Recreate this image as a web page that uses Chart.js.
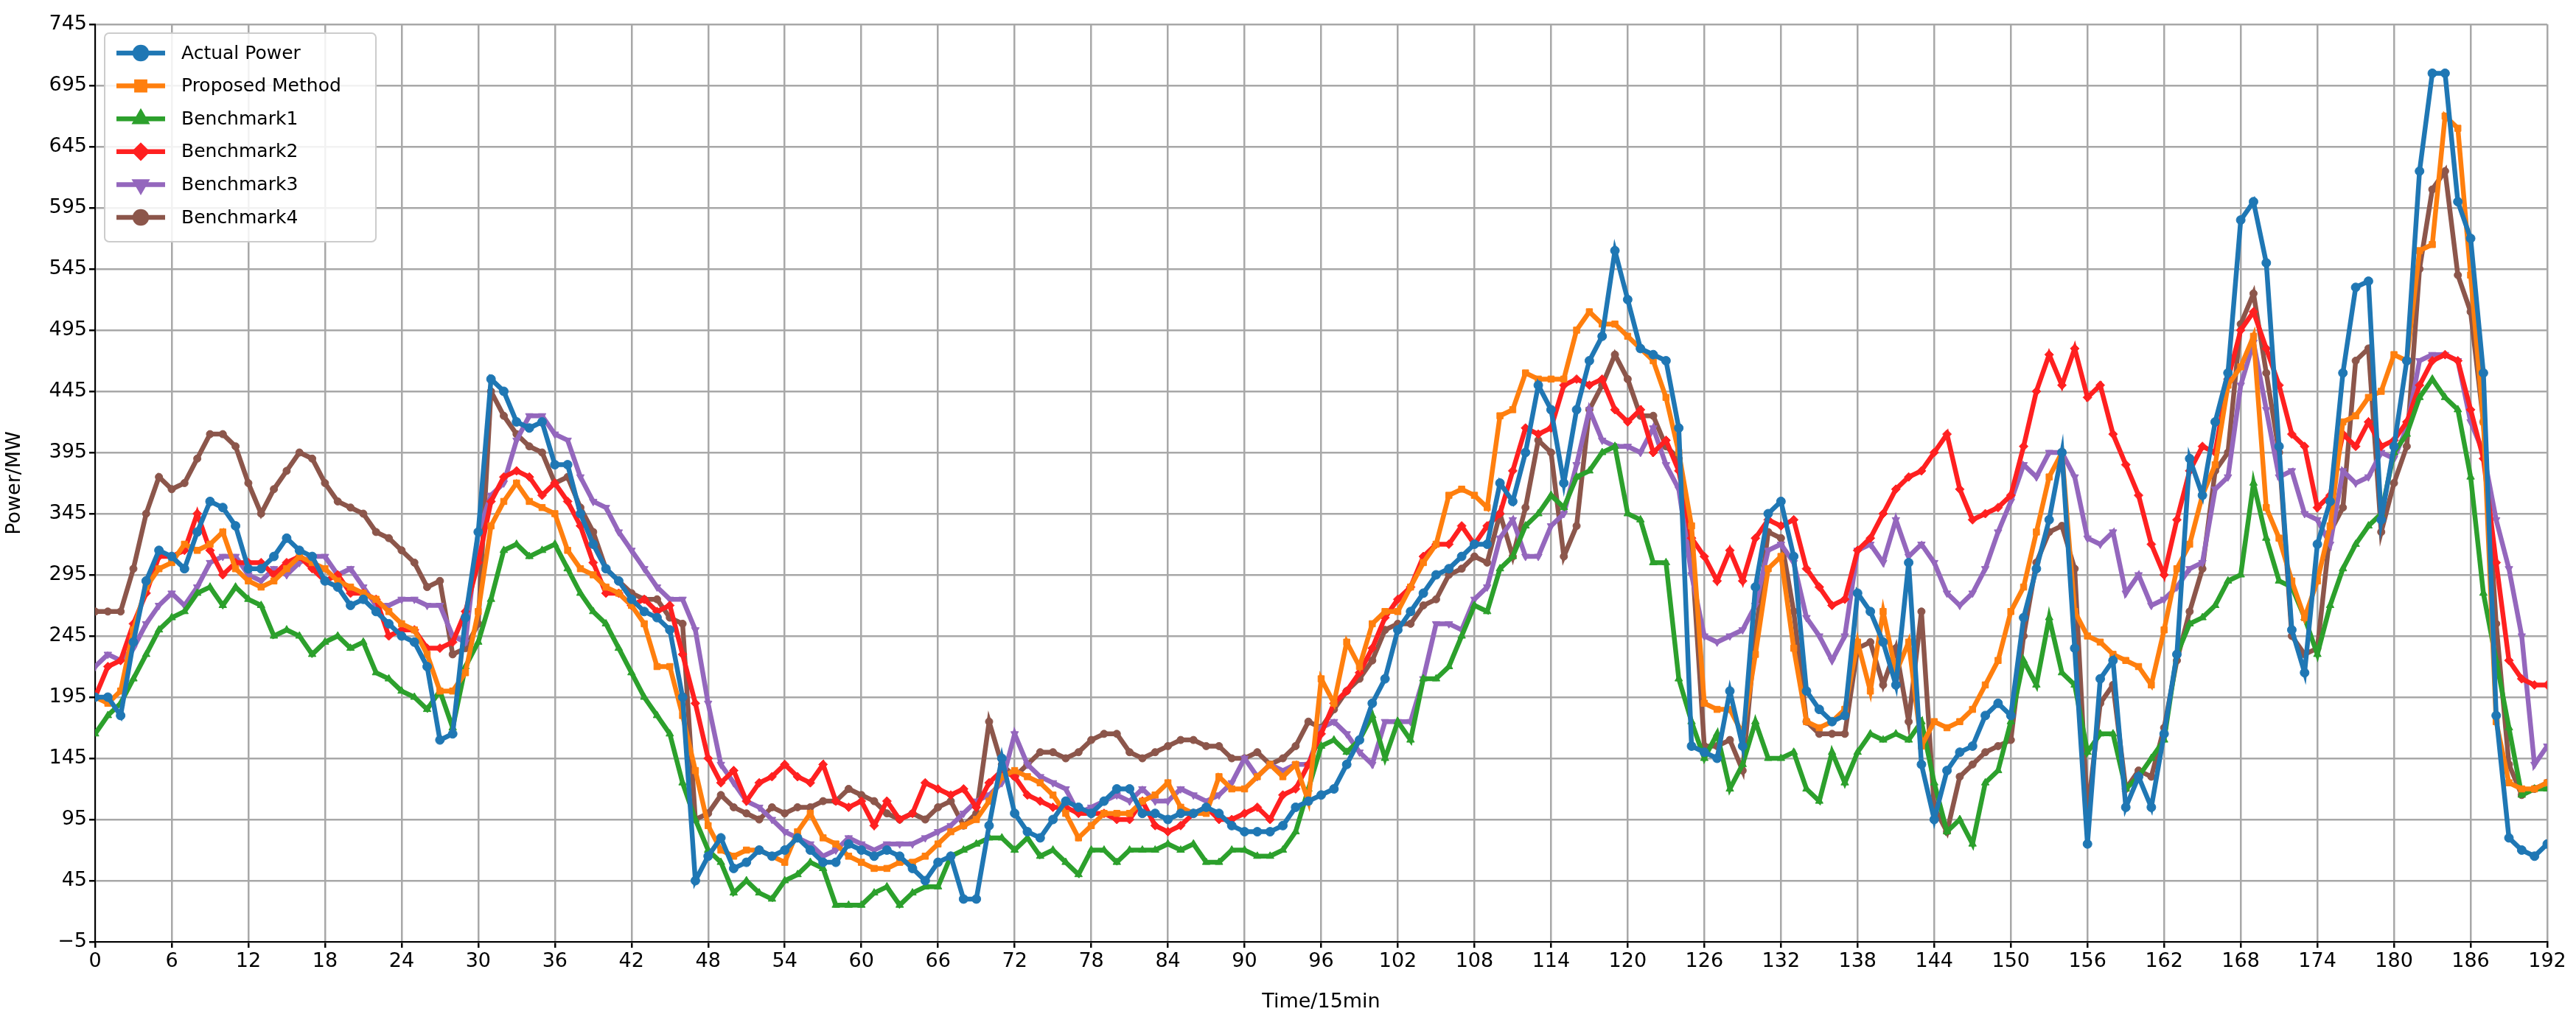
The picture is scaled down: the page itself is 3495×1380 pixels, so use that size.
<!DOCTYPE html>
<html>
<head>
<meta charset="utf-8">
<script src="https://cdn.jsdelivr.net/npm/chart.js@4/dist/chart.umd.min.js"></script>
<style>
html,body{margin:0;padding:0;background:#fff;}
#wrap{width:3495px;height:1380px;}
</style>
</head>
<body>
<div id="wrap"><canvas id="powerChart" width="3495" height="1380"></canvas></div>
<script>
// values, one per 15 min step (0..192)
const actualPower = [
195,195,180,240,290,315, 310,300,330,355,350,335, 300,300,310,325,315,310, 290,285,270,275,265,255,
245,240,220,160,165,260, 330,455,445,420,415,420, 385,385,345,320,300,290, 275,265,260,250,195,45,
65,80,55,60,70,65, 70,80,70,60,60,75, 70,65,70,65,55,45, 60,65,30,30,90,145,
100,85,80,95,110,105, 100,110,120,120,100,100, 95,100,100,105,100,90, 85,85,85,90,105,110,
115,120,140,160,190,210, 250,265,280,295,300,310, 320,320,370,355,395,450, 430,370,430,470,490,560,
520,480,475,470,415,155, 150,145,200,155,285,345, 355,310,200,185,175,180, 280,265,240,205,305,140,
95,135,150,155,180,190, 180,260,300,340,395,235, 75,210,225,105,130,105, 165,230,390,360,420,460,
585,600,550,400,250,215, 320,355,460,530,535,340, 400,470,625,705,705,600, 570,460,180,80,70,65,75
];
const proposedMethod = [
195,190,200,250,285,300, 305,320,315,320,330,300, 290,285,290,300,310,305, 300,290,285,280,275,265,
255,250,230,200,200,215, 265,335,355,370,355,350, 345,315,300,295,285,280, 270,255,220,220,180,135,
90,70,65,70,70,65, 60,85,100,80,75,65, 60,55,55,60,60,65, 75,85,90,95,110,130,
135,130,125,115,100,80, 90,100,100,100,110,115, 125,105,100,100,130,120, 120,130,140,130,140,110,
210,190,240,220,255,265, 265,285,305,320,360,365, 360,350,425,430,460,455, 455,455,495,510,500,500,
490,480,470,440,395,335, 190,185,185,165,230,300, 310,235,175,170,175,185, 240,200,265,215,240,155,
175,170,175,185,205,225, 265,285,330,375,395,265, 245,240,230,225,220,205, 250,300,320,360,385,450,
465,490,350,325,290,260, 290,335,420,425,440,445, 475,470,560,565,670,660, 540,420,175,125,120,120,125
];
const benchmark1 = [
165,180,190,210,230,250, 260,265,280,285,270,285, 275,270,245,250,245,230, 240,245,235,240,215,210,
200,195,185,200,170,220, 240,275,315,320,310,315, 320,300,280,265,255,235, 215,195,180,165,125,95,
70,60,35,45,35,30, 45,50,60,55,25,25, 25,35,40,25,35,40, 40,65,70,75,80,80,
70,80,65,70,60,50, 70,70,60,70,70,70, 75,70,75,60,60,70, 70,65,65,70,85,120,
155,160,150,160,180,145, 175,160,210,210,220,245, 270,265,300,310,335,345, 360,350,375,380,395,400,
345,340,305,305,210,175, 145,165,120,140,175,145, 145,150,120,110,150,125, 150,165,160,165,160,175,
125,85,95,75,125,135, 175,225,205,260,215,205, 150,165,165,120,130,145, 160,230,255,260,270,290,
295,370,325,290,285,260, 230,270,300,320,335,345, 395,410,440,455,440,430, 375,280,225,170,115,120,120
];
const benchmark2 = [
195,220,225,255,280,310, 310,315,345,315,295,305, 305,305,295,305,310,300, 290,295,280,280,275,245,
250,250,235,235,240,265, 305,355,375,380,375,360, 370,355,335,305,280,280, 270,275,265,270,230,190,
145,125,135,110,125,130, 140,130,125,140,110,105, 110,90,110,95,100,125, 120,115,120,105,125,135,
130,115,110,105,105,100, 100,100,95,95,110,90, 85,90,100,105,95,95, 100,105,95,115,120,140,
165,190,200,215,235,260, 275,285,310,320,320,335, 320,335,345,380,415,410, 415,450,455,450,455,430,
420,430,395,405,380,325, 310,290,315,290,325,340, 335,340,300,285,270,275, 315,325,345,365,375,380,
395,410,365,340,345,350, 360,400,445,475,450,480, 440,450,410,385,360,320, 295,340,380,400,395,455,
495,510,480,450,410,400, 350,360,410,400,420,400, 405,420,450,470,475,470, 430,390,305,225,210,205,205
];
const benchmark3 = [
220,230,225,235,255,270, 280,270,285,305,310,310, 295,290,300,295,305,310, 310,295,300,285,270,270,
275,275,270,270,245,240, 330,360,370,405,425,425, 410,405,375,355,350,330, 315,300,285,275,275,250,
190,140,125,110,105,95, 85,80,75,65,70,80, 75,70,75,75,75,80, 85,90,100,110,115,125,
165,140,130,125,120,100, 105,110,115,110,120,110, 110,120,115,110,115,125, 145,130,140,135,140,140,
170,175,165,150,140,175, 175,175,210,255,255,250, 275,285,325,340,310,310, 335,345,385,430,405,400,
400,395,415,385,365,295, 245,240,245,250,270,315, 320,305,260,245,225,245, 315,320,305,340,310,320,
305,280,270,280,300,330, 355,385,375,395,395,375, 325,320,330,280,295,270, 275,285,300,305,365,375,
450,485,430,375,380,345, 340,320,380,370,375,395, 390,415,470,475,475,470, 420,395,340,300,245,140,155
];
const benchmark4 = [
265,265,265,300,345,375, 365,370,390,410,410,400, 370,345,365,380,395,390, 370,355,350,345,330,325,
315,305,285,290,230,235, 255,445,425,410,400,395, 370,375,350,330,300,290, 280,275,275,260,255,95,
100,115,105,100,95,105, 100,105,105,110,110,120, 115,110,100,95,100,95, 105,110,90,100,175,140,
130,140,150,150,145,150, 160,165,165,150,145,150, 155,160,160,155,155,145, 145,150,140,145,155,175,
170,185,200,210,225,250, 255,255,270,275,295,300, 310,305,345,310,350,405, 395,310,335,430,450,475,
455,425,425,400,390,315, 155,155,160,135,245,330, 325,265,175,165,165,165, 235,240,205,235,175,265,
105,85,130,140,150,155, 160,245,305,330,335,300, 100,190,205,120,135,130, 170,225,265,300,380,395,
500,525,460,395,245,230, 235,330,350,470,480,330, 370,400,545,610,625,540, 510,420,255,140,115,120,125
];

const seriesNames = ['Actual Power', 'Proposed Method', 'Benchmark1', 'Benchmark2', 'Benchmark3', 'Benchmark4'];
const seriesColors = ['#1f77b4', '#ff7f0e', '#2ca02c', '#ff2020', '#9467bd', '#8c564b'];
const seriesMarkers = ['circle', 'rect', 'triangle', 'rectRot', 'triangle', 'circle'];
const seriesRotation = [0, 0, 0, 0, 180, 0];
const seriesValues = [actualPower, proposedMethod, benchmark1, benchmark2, benchmark3, benchmark4];

const datasets = seriesValues.map((vals, k) => ({
  label: seriesNames[k],
  data: vals.map((v, i) => ({x: i, y: v})),
  borderColor: seriesColors[k],
  backgroundColor: seriesColors[k],
  borderWidth: 6.5,
  pointStyle: seriesMarkers[k],
  rotation: seriesRotation[k],
  pointRadius: k === 5 ? 5 : 6,
  pointBorderWidth: 1,
  fill: false,
  tension: 0
}));

// legend box inside the plot, drawn the matplotlib way
const boxLegend = {
  id: 'boxLegend',
  afterDraw(chart) {
    const c = chart.ctx;
    c.save();
    c.fillStyle = 'rgba(255,255,255,0.85)';
    c.strokeStyle = '#cccccc';
    c.lineWidth = 2;
    c.beginPath();
    c.roundRect(142, 45, 368, 283, 6);
    c.fill();
    c.stroke();
    c.font = '25px "DejaVu Sans"';
    c.textBaseline = 'middle';
    seriesNames.forEach((name, k) => {
      const y = 72 + k * 44.6;
      c.strokeStyle = seriesColors[k];
      c.lineWidth = 6.5;
      c.beginPath();
      c.moveTo(158, y);
      c.lineTo(224, y);
      c.stroke();
      c.fillStyle = seriesColors[k];
      Chart.helpers.drawPoint(c, {pointStyle: seriesMarkers[k], rotation: seriesRotation[k], radius: 8, borderWidth: 1}, 191, y);
      c.fillStyle = '#000';
      c.fillText(name, 246, y + 1);
    });
    c.restore();
  }
};

const tickFont = {family: '"DejaVu Sans"', size: 27};

new Chart(document.getElementById('powerChart').getContext('2d'), {
  type: 'line',
  data: {datasets: datasets},
  plugins: [boxLegend],
  options: {
    responsive: false,
    animation: false,
    devicePixelRatio: 1,
    layout: {padding: {top: 33, right: 39, left: 0, bottom: 0}},
    plugins: {legend: {display: false}, tooltip: {enabled: false}},
    scales: {
      x: {
        type: 'linear',
        min: 0,
        max: 192,
        afterFit(s) { s.height = 102; },
        ticks: {stepSize: 6, color: '#000', font: tickFont, maxRotation: 0, autoSkip: false},
        grid: {color: '#a8a8a8', lineWidth: 2.5, tickLength: 8, tickColor: '#000'},
        border: {color: '#000', width: 2},
        title: {display: true, text: 'Time/15min', color: '#000', font: tickFont, padding: {top: 0}}
      },
      y: {
        min: -5,
        max: 745,
        afterFit(s) { s.width = 129; },
        afterBuildTicks(s) {
          const t = [];
          for (let v = -5; v <= 745; v += 50) t.push({value: v});
          s.ticks = t;
        },
        ticks: {color: '#000', font: tickFont, callback: v => String(v).replace('-', '\u2212')},
        grid: {color: '#a8a8a8', lineWidth: 2.5, tickLength: 8, tickColor: '#000'},
        border: {color: '#000', width: 2},
        title: {display: true, text: 'Power/MW', color: '#000', font: tickFont, padding: {bottom: 4}}
      }
    }
  }
});
</script>
</body>
</html>
